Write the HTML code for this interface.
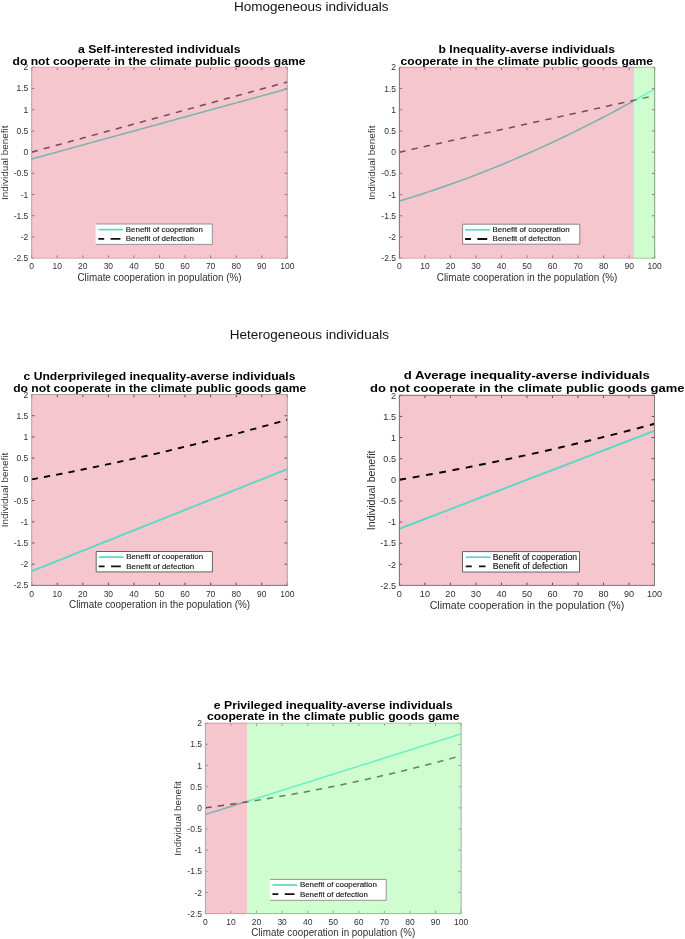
<!DOCTYPE html><html><head><meta charset="utf-8"><style>html,body{margin:0;padding:0;background:#fff;overflow:hidden}svg{display:block;will-change:transform}text{font-family:"Liberation Sans",sans-serif}</style></head><body>
<svg width="685" height="939" viewBox="0 0 685 939">
<rect width="685" height="939" fill="#fff"/>
<text x="234.00" y="10.90" font-size="13.5" font-weight="400" text-anchor="start" fill="#111" textLength="154.60" lengthAdjust="spacingAndGlyphs" >Homogeneous individuals</text>
<text x="229.80" y="338.60" font-size="13.5" font-weight="400" text-anchor="start" fill="#111" textLength="159.10" lengthAdjust="spacingAndGlyphs" >Heterogeneous individuals</text>
<rect x="31.7" y="67.2" width="255.60" height="191.00" fill="#F5C6CE"/>
<path d="M31.70,258.20v-2.8M31.70,67.20v2.8M57.26,258.20v-2.8M57.26,67.20v2.8M82.82,258.20v-2.8M82.82,67.20v2.8M108.38,258.20v-2.8M108.38,67.20v2.8M133.94,258.20v-2.8M133.94,67.20v2.8M159.50,258.20v-2.8M159.50,67.20v2.8M185.06,258.20v-2.8M185.06,67.20v2.8M210.62,258.20v-2.8M210.62,67.20v2.8M236.18,258.20v-2.8M236.18,67.20v2.8M261.74,258.20v-2.8M261.74,67.20v2.8M287.30,258.20v-2.8M287.30,67.20v2.8M31.70,67.20h2.8M287.30,67.20h-2.8M31.70,88.42h2.8M287.30,88.42h-2.8M31.70,109.64h2.8M287.30,109.64h-2.8M31.70,130.87h2.8M287.30,130.87h-2.8M31.70,152.09h2.8M287.30,152.09h-2.8M31.70,173.31h2.8M287.30,173.31h-2.8M31.70,194.53h2.8M287.30,194.53h-2.8M31.70,215.76h2.8M287.30,215.76h-2.8M31.70,236.98h2.8M287.30,236.98h-2.8M31.70,258.20h2.8M287.30,258.20h-2.8" stroke="#985C69" stroke-width="0.85" fill="none"/>
<clipPath id="cpa"><rect x="28.7" y="64.2" width="258.60" height="197.00"/></clipPath>
<polyline points="31.70,159.01 35.96,157.84 40.22,156.67 44.48,155.50 48.74,154.33 53.00,153.16 57.26,151.99 61.52,150.82 65.78,149.65 70.04,148.48 74.30,147.31 78.56,146.14 82.82,144.98 87.08,143.81 91.34,142.64 95.60,141.47 99.86,140.30 104.12,139.13 108.38,137.96 112.64,136.79 116.90,135.62 121.16,134.45 125.42,133.28 129.68,132.11 133.94,130.94 138.20,129.77 142.46,128.60 146.72,127.44 150.98,126.27 155.24,125.10 159.50,123.93 163.76,122.76 168.02,121.59 172.28,120.42 176.54,119.25 180.80,118.08 185.06,116.91 189.32,115.74 193.58,114.57 197.84,113.40 202.10,112.23 206.36,111.06 210.62,109.89 214.88,108.73 219.14,107.56 223.40,106.39 227.66,105.22 231.92,104.05 236.18,102.88 240.44,101.71 244.70,100.54 248.96,99.37 253.22,98.20 257.48,97.03 261.74,95.86 266.00,94.69 270.26,93.52 274.52,92.35 278.78,91.19 283.04,90.02 287.30,88.85" fill="none" stroke="#76B4AE" stroke-width="1.5" stroke-linejoin="round" clip-path="url(#cpa)"/>
<polyline points="31.70,152.09 35.96,150.92 40.22,149.75 44.48,148.58 48.74,147.41 53.00,146.25 57.26,145.08 61.52,143.91 65.78,142.74 70.04,141.57 74.30,140.40 78.56,139.23 82.82,138.07 87.08,136.90 91.34,135.73 95.60,134.56 99.86,133.39 104.12,132.22 108.38,131.05 112.64,129.88 116.90,128.72 121.16,127.55 125.42,126.38 129.68,125.21 133.94,124.04 138.20,122.87 142.46,121.70 146.72,120.54 150.98,119.37 155.24,118.20 159.50,117.03 163.76,115.86 168.02,114.69 172.28,113.52 176.54,112.36 180.80,111.19 185.06,110.02 189.32,108.85 193.58,107.68 197.84,106.51 202.10,105.34 206.36,104.17 210.62,103.01 214.88,101.84 219.14,100.67 223.40,99.50 227.66,98.33 231.92,97.16 236.18,95.99 240.44,94.83 244.70,93.66 248.96,92.49 253.22,91.32 257.48,90.15 261.74,88.98 266.00,87.81 270.26,86.65 274.52,85.48 278.78,84.31 283.04,83.14 287.30,81.97" fill="none" stroke="#7E4656" stroke-width="1.5" stroke-dasharray="6.3 6.15" stroke-linejoin="round" clip-path="url(#cpa)"/>
<line x1="31.7" y1="67.2" x2="31.7" y2="258.2" stroke="#A6A6A6" stroke-width="1"/>
<line x1="31.7" y1="67.2" x2="287.3" y2="67.2" stroke="#D9A9B1" stroke-width="1"/>
<line x1="287.3" y1="67.2" x2="287.3" y2="258.2" stroke="#A6A6A6" stroke-width="1"/>
<line x1="31.7" y1="258.2" x2="287.3" y2="258.2" stroke="#D9A9B1" stroke-width="1"/>
<text x="28.30" y="70.26" font-size="8.5" font-weight="400" text-anchor="end" fill="#303030" >2</text>
<text x="28.30" y="91.48" font-size="8.5" font-weight="400" text-anchor="end" fill="#303030" >1.5</text>
<text x="28.30" y="112.70" font-size="8.5" font-weight="400" text-anchor="end" fill="#303030" >1</text>
<text x="28.30" y="133.93" font-size="8.5" font-weight="400" text-anchor="end" fill="#303030" >0.5</text>
<text x="28.30" y="155.15" font-size="8.5" font-weight="400" text-anchor="end" fill="#303030" >0</text>
<text x="28.30" y="176.37" font-size="8.5" font-weight="400" text-anchor="end" fill="#303030" >-0.5</text>
<text x="28.30" y="197.59" font-size="8.5" font-weight="400" text-anchor="end" fill="#303030" >-1</text>
<text x="28.30" y="218.82" font-size="8.5" font-weight="400" text-anchor="end" fill="#303030" >-1.5</text>
<text x="28.30" y="240.04" font-size="8.5" font-weight="400" text-anchor="end" fill="#303030" >-2</text>
<text x="28.30" y="261.26" font-size="8.5" font-weight="400" text-anchor="end" fill="#303030" >-2.5</text>
<text x="31.70" y="269.46" font-size="8.5" font-weight="400" text-anchor="middle" fill="#303030" >0</text>
<text x="57.26" y="269.46" font-size="8.5" font-weight="400" text-anchor="middle" fill="#303030" >10</text>
<text x="82.82" y="269.46" font-size="8.5" font-weight="400" text-anchor="middle" fill="#303030" >20</text>
<text x="108.38" y="269.46" font-size="8.5" font-weight="400" text-anchor="middle" fill="#303030" >30</text>
<text x="133.94" y="269.46" font-size="8.5" font-weight="400" text-anchor="middle" fill="#303030" >40</text>
<text x="159.50" y="269.46" font-size="8.5" font-weight="400" text-anchor="middle" fill="#303030" >50</text>
<text x="185.06" y="269.46" font-size="8.5" font-weight="400" text-anchor="middle" fill="#303030" >60</text>
<text x="210.62" y="269.46" font-size="8.5" font-weight="400" text-anchor="middle" fill="#303030" >70</text>
<text x="236.18" y="269.46" font-size="8.5" font-weight="400" text-anchor="middle" fill="#303030" >80</text>
<text x="261.74" y="269.46" font-size="8.5" font-weight="400" text-anchor="middle" fill="#303030" >90</text>
<text x="287.30" y="269.46" font-size="8.5" font-weight="400" text-anchor="middle" fill="#303030" >100</text>
<text x="159.50" y="280.90" font-size="10.3" font-weight="400" text-anchor="middle" fill="#303030" textLength="164.00" lengthAdjust="spacingAndGlyphs" >Climate cooperation in population (%)</text>
<text transform="translate(7.60,162.70) rotate(-90)" x="0" y="0" font-size="9.9" text-anchor="middle" fill="#303030" textLength="74.5" lengthAdjust="spacingAndGlyphs">Individual benefit</text>
<text x="78.00" y="52.60" font-size="10.5" font-weight="700" text-anchor="start" fill="#000" textLength="162.50" lengthAdjust="spacingAndGlyphs" >a Self-interested individuals</text>
<text x="12.50" y="64.80" font-size="10.5" font-weight="700" text-anchor="start" fill="#000" textLength="293.00" lengthAdjust="spacingAndGlyphs" >do not cooperate in the climate public goods game</text>
<rect x="95.8" y="224.0" width="116.5" height="20.4" fill="#fff"/>
<path d="M95.8,224.0H212.3V244.4H95.8" fill="none" stroke="#8a8a8a" stroke-width="0.9"/>
<path d="M95.8,224.0V244.4" fill="none" stroke="#e6e6e6" stroke-width="0.9"/>
<line x1="98.3" y1="229.6" x2="123.1" y2="229.6" stroke="#58D9C5" stroke-width="1.7"/>
<path d="M98.30,238.80H104.20M110.60,238.80H120.40" stroke="#111" stroke-width="1.8"/>
<text x="125.80" y="231.90" font-size="7.6" font-weight="400" text-anchor="start" fill="#111" textLength="77.00" lengthAdjust="spacingAndGlyphs" stroke="#111" stroke-width="0.12">Benefit of cooperation</text>
<text x="125.80" y="241.10" font-size="7.6" font-weight="400" text-anchor="start" fill="#111" textLength="68.00" lengthAdjust="spacingAndGlyphs" stroke="#111" stroke-width="0.12">Benefit of defection</text>
<rect x="399.4" y="67.3" width="234.62" height="190.90" fill="#F5C6CE"/>
<rect x="634.02" y="67.3" width="20.68" height="190.90" fill="#D0FDD0"/>
<path d="M399.40,258.20v-2.8M399.40,67.30v2.8M424.93,258.20v-2.8M424.93,67.30v2.8M450.46,258.20v-2.8M450.46,67.30v2.8M475.99,258.20v-2.8M475.99,67.30v2.8M501.52,258.20v-2.8M501.52,67.30v2.8M527.05,258.20v-2.8M527.05,67.30v2.8M552.58,258.20v-2.8M552.58,67.30v2.8M578.11,258.20v-2.8M578.11,67.30v2.8M603.64,258.20v-2.8M603.64,67.30v2.8M629.17,258.20v-2.8M629.17,67.30v2.8M654.70,258.20v-2.8M654.70,67.30v2.8M399.40,67.30h2.8M654.70,67.30h-2.8M399.40,88.51h2.8M654.70,88.51h-2.8M399.40,109.72h2.8M654.70,109.72h-2.8M399.40,130.93h2.8M654.70,130.93h-2.8M399.40,152.14h2.8M654.70,152.14h-2.8M399.40,173.36h2.8M654.70,173.36h-2.8M399.40,194.57h2.8M654.70,194.57h-2.8M399.40,215.78h2.8M654.70,215.78h-2.8M399.40,236.99h2.8M654.70,236.99h-2.8M399.40,258.20h2.8M654.70,258.20h-2.8" stroke="#985C69" stroke-width="0.85" fill="none"/>
<clipPath id="cpb"><rect x="396.4" y="64.3" width="237.62" height="196.90"/></clipPath>
<polyline points="399.40,201.06 403.65,199.77 407.91,198.46 412.16,197.13 416.42,195.78 420.67,194.42 424.93,193.03 429.19,191.62 433.44,190.20 437.69,188.75 441.95,187.28 446.20,185.80 450.46,184.29 454.71,182.77 458.97,181.22 463.23,179.66 467.48,178.08 471.74,176.47 475.99,174.85 480.25,173.21 484.50,171.55 488.75,169.86 493.01,168.16 497.26,166.44 501.52,164.70 505.77,162.94 510.03,161.16 514.28,159.36 518.54,157.54 522.80,155.70 527.05,153.84 531.31,151.96 535.56,150.06 539.82,148.15 544.07,146.21 548.33,144.25 552.58,142.28 556.84,140.28 561.09,138.26 565.35,136.23 569.60,134.17 573.86,132.10 578.11,130.00 582.37,127.89 586.62,125.75 590.88,123.60 595.13,121.43 599.38,119.23 603.64,117.02 607.89,114.79 612.15,112.54 616.40,110.26 620.66,107.97 624.91,105.66 629.17,103.33 633.43,100.98 637.68,98.61 641.94,96.22 646.19,93.81 650.45,91.38 654.70,88.94" fill="none" stroke="#76B4AE" stroke-width="1.5" stroke-linejoin="round" clip-path="url(#cpb)"/>
<polyline points="399.40,152.14 403.65,151.20 407.91,150.26 412.16,149.32 416.42,148.38 420.67,147.44 424.93,146.50 429.19,145.56 433.44,144.62 437.69,143.67 441.95,142.73 446.20,141.79 450.46,140.85 454.71,139.91 458.97,138.97 463.23,138.03 467.48,137.09 471.74,136.15 475.99,135.21 480.25,134.26 484.50,133.32 488.75,132.38 493.01,131.44 497.26,130.50 501.52,129.56 505.77,128.62 510.03,127.68 514.28,126.74 518.54,125.79 522.80,124.85 527.05,123.91 531.31,122.97 535.56,122.03 539.82,121.09 544.07,120.15 548.33,119.21 552.58,118.27 556.84,117.32 561.09,116.38 565.35,115.44 569.60,114.50 573.86,113.56 578.11,112.62 582.37,111.68 586.62,110.74 590.88,109.80 595.13,108.86 599.38,107.91 603.64,106.97 607.89,106.03 612.15,105.09 616.40,104.15 620.66,103.21 624.91,102.27 629.17,101.33 633.43,100.39 637.68,99.44 641.94,98.50 646.19,97.56 650.45,96.62 654.70,95.68" fill="none" stroke="#7E4656" stroke-width="1.5" stroke-dasharray="6.3 6.15" stroke-linejoin="round" clip-path="url(#cpb)"/>
<clipPath id="cgb"><rect x="634.02" y="64.3" width="23.68" height="196.90"/></clipPath>
<polyline points="399.40,201.06 403.65,199.77 407.91,198.46 412.16,197.13 416.42,195.78 420.67,194.42 424.93,193.03 429.19,191.62 433.44,190.20 437.69,188.75 441.95,187.28 446.20,185.80 450.46,184.29 454.71,182.77 458.97,181.22 463.23,179.66 467.48,178.08 471.74,176.47 475.99,174.85 480.25,173.21 484.50,171.55 488.75,169.86 493.01,168.16 497.26,166.44 501.52,164.70 505.77,162.94 510.03,161.16 514.28,159.36 518.54,157.54 522.80,155.70 527.05,153.84 531.31,151.96 535.56,150.06 539.82,148.15 544.07,146.21 548.33,144.25 552.58,142.28 556.84,140.28 561.09,138.26 565.35,136.23 569.60,134.17 573.86,132.10 578.11,130.00 582.37,127.89 586.62,125.75 590.88,123.60 595.13,121.43 599.38,119.23 603.64,117.02 607.89,114.79 612.15,112.54 616.40,110.26 620.66,107.97 624.91,105.66 629.17,103.33 633.43,100.98 637.68,98.61 641.94,96.22 646.19,93.81 650.45,91.38 654.70,88.94" fill="none" stroke="#68F1C2" stroke-width="1.5" stroke-linejoin="round" clip-path="url(#cgb)"/>
<polyline points="399.40,152.14 403.65,151.20 407.91,150.26 412.16,149.32 416.42,148.38 420.67,147.44 424.93,146.50 429.19,145.56 433.44,144.62 437.69,143.67 441.95,142.73 446.20,141.79 450.46,140.85 454.71,139.91 458.97,138.97 463.23,138.03 467.48,137.09 471.74,136.15 475.99,135.21 480.25,134.26 484.50,133.32 488.75,132.38 493.01,131.44 497.26,130.50 501.52,129.56 505.77,128.62 510.03,127.68 514.28,126.74 518.54,125.79 522.80,124.85 527.05,123.91 531.31,122.97 535.56,122.03 539.82,121.09 544.07,120.15 548.33,119.21 552.58,118.27 556.84,117.32 561.09,116.38 565.35,115.44 569.60,114.50 573.86,113.56 578.11,112.62 582.37,111.68 586.62,110.74 590.88,109.80 595.13,108.86 599.38,107.91 603.64,106.97 607.89,106.03 612.15,105.09 616.40,104.15 620.66,103.21 624.91,102.27 629.17,101.33 633.43,100.39 637.68,99.44 641.94,98.50 646.19,97.56 650.45,96.62 654.70,95.68" fill="none" stroke="#528B58" stroke-width="1.5" stroke-dasharray="6.3 6.15" stroke-linejoin="round" clip-path="url(#cgb)"/>
<line x1="399.4" y1="67.3" x2="399.4" y2="258.2" stroke="#8A6C72" stroke-width="1"/>
<line x1="399.4" y1="67.3" x2="634.02" y2="67.3" stroke="#C99AA2" stroke-width="1"/>
<line x1="634.02" y1="67.3" x2="654.7" y2="67.3" stroke="#9CCB9C" stroke-width="1"/>
<line x1="654.7" y1="67.3" x2="654.7" y2="258.2" stroke="#7E9A7E" stroke-width="1"/>
<line x1="399.4" y1="258.2" x2="634.02" y2="258.2" stroke="#D9A9B1" stroke-width="1"/>
<line x1="634.02" y1="258.2" x2="654.7" y2="258.2" stroke="#9CCB9C" stroke-width="1"/>
<text x="396.00" y="70.36" font-size="8.5" font-weight="400" text-anchor="end" fill="#303030" >2</text>
<text x="396.00" y="91.57" font-size="8.5" font-weight="400" text-anchor="end" fill="#303030" >1.5</text>
<text x="396.00" y="112.78" font-size="8.5" font-weight="400" text-anchor="end" fill="#303030" >1</text>
<text x="396.00" y="133.99" font-size="8.5" font-weight="400" text-anchor="end" fill="#303030" >0.5</text>
<text x="396.00" y="155.20" font-size="8.5" font-weight="400" text-anchor="end" fill="#303030" >0</text>
<text x="396.00" y="176.42" font-size="8.5" font-weight="400" text-anchor="end" fill="#303030" >-0.5</text>
<text x="396.00" y="197.63" font-size="8.5" font-weight="400" text-anchor="end" fill="#303030" >-1</text>
<text x="396.00" y="218.84" font-size="8.5" font-weight="400" text-anchor="end" fill="#303030" >-1.5</text>
<text x="396.00" y="240.05" font-size="8.5" font-weight="400" text-anchor="end" fill="#303030" >-2</text>
<text x="396.00" y="261.26" font-size="8.5" font-weight="400" text-anchor="end" fill="#303030" >-2.5</text>
<text x="399.40" y="269.46" font-size="8.5" font-weight="400" text-anchor="middle" fill="#303030" >0</text>
<text x="424.93" y="269.46" font-size="8.5" font-weight="400" text-anchor="middle" fill="#303030" >10</text>
<text x="450.46" y="269.46" font-size="8.5" font-weight="400" text-anchor="middle" fill="#303030" >20</text>
<text x="475.99" y="269.46" font-size="8.5" font-weight="400" text-anchor="middle" fill="#303030" >30</text>
<text x="501.52" y="269.46" font-size="8.5" font-weight="400" text-anchor="middle" fill="#303030" >40</text>
<text x="527.05" y="269.46" font-size="8.5" font-weight="400" text-anchor="middle" fill="#303030" >50</text>
<text x="552.58" y="269.46" font-size="8.5" font-weight="400" text-anchor="middle" fill="#303030" >60</text>
<text x="578.11" y="269.46" font-size="8.5" font-weight="400" text-anchor="middle" fill="#303030" >70</text>
<text x="603.64" y="269.46" font-size="8.5" font-weight="400" text-anchor="middle" fill="#303030" >80</text>
<text x="629.17" y="269.46" font-size="8.5" font-weight="400" text-anchor="middle" fill="#303030" >90</text>
<text x="654.70" y="269.46" font-size="8.5" font-weight="400" text-anchor="middle" fill="#303030" >100</text>
<text x="527.05" y="280.90" font-size="10.3" font-weight="400" text-anchor="middle" fill="#303030" textLength="180.50" lengthAdjust="spacingAndGlyphs" >Climate cooperation in the population (%)</text>
<text transform="translate(375.00,162.75) rotate(-90)" x="0" y="0" font-size="9.9" text-anchor="middle" fill="#303030" textLength="74.5" lengthAdjust="spacingAndGlyphs">Individual benefit</text>
<text x="438.60" y="52.60" font-size="10.5" font-weight="700" text-anchor="start" fill="#000" textLength="176.30" lengthAdjust="spacingAndGlyphs" >b Inequality-averse individuals</text>
<text x="400.60" y="64.80" font-size="10.5" font-weight="700" text-anchor="start" fill="#000" textLength="252.50" lengthAdjust="spacingAndGlyphs" >cooperate in the climate public goods game</text>
<rect x="462.6" y="224.2" width="117.2" height="20.0" fill="#fff"/>
<path d="M462.6,224.2H579.8000000000001V244.2H462.6" fill="none" stroke="#7a7a7a" stroke-width="0.9"/>
<path d="M462.6,224.2V244.2" fill="none" stroke="#7a7a7a" stroke-width="0.9"/>
<line x1="465.1" y1="229.79999999999998" x2="489.90000000000003" y2="229.79999999999998" stroke="#58D9C5" stroke-width="1.7"/>
<path d="M465.10,239.00H471.00M477.40,239.00H487.20" stroke="#111" stroke-width="1.8"/>
<text x="492.60" y="232.10" font-size="7.6" font-weight="400" text-anchor="start" fill="#111" textLength="77.00" lengthAdjust="spacingAndGlyphs" stroke="#111" stroke-width="0.12">Benefit of cooperation</text>
<text x="492.60" y="241.30" font-size="7.6" font-weight="400" text-anchor="start" fill="#111" textLength="68.00" lengthAdjust="spacingAndGlyphs" stroke="#111" stroke-width="0.12">Benefit of defection</text>
<rect x="31.7" y="394.5" width="255.60" height="190.90" fill="#F5C6CE"/>
<path d="M31.70,585.40v-2.8M31.70,394.50v2.8M57.26,585.40v-2.8M57.26,394.50v2.8M82.82,585.40v-2.8M82.82,394.50v2.8M108.38,585.40v-2.8M108.38,394.50v2.8M133.94,585.40v-2.8M133.94,394.50v2.8M159.50,585.40v-2.8M159.50,394.50v2.8M185.06,585.40v-2.8M185.06,394.50v2.8M210.62,585.40v-2.8M210.62,394.50v2.8M236.18,585.40v-2.8M236.18,394.50v2.8M261.74,585.40v-2.8M261.74,394.50v2.8M287.30,585.40v-2.8M287.30,394.50v2.8M31.70,394.50h2.8M287.30,394.50h-2.8M31.70,415.71h2.8M287.30,415.71h-2.8M31.70,436.92h2.8M287.30,436.92h-2.8M31.70,458.13h2.8M287.30,458.13h-2.8M31.70,479.34h2.8M287.30,479.34h-2.8M31.70,500.56h2.8M287.30,500.56h-2.8M31.70,521.77h2.8M287.30,521.77h-2.8M31.70,542.98h2.8M287.30,542.98h-2.8M31.70,564.19h2.8M287.30,564.19h-2.8M31.70,585.40h2.8M287.30,585.40h-2.8" stroke="#3d3d3d" stroke-width="0.85" fill="none"/>
<polyline points="31.70,571.15 35.96,569.45 40.22,567.74 44.48,566.04 48.74,564.34 53.00,562.64 57.26,560.94 61.52,559.24 65.78,557.54 70.04,555.84 74.30,554.13 78.56,552.43 82.82,550.73 87.08,549.03 91.34,547.33 95.60,545.63 99.86,543.93 104.12,542.23 108.38,540.53 112.64,538.82 116.90,537.12 121.16,535.42 125.42,533.72 129.68,532.02 133.94,530.32 138.20,528.62 142.46,526.92 146.72,525.22 150.98,523.51 155.24,521.81 159.50,520.11 163.76,518.41 168.02,516.71 172.28,515.01 176.54,513.31 180.80,511.61 185.06,509.91 189.32,508.20 193.58,506.50 197.84,504.80 202.10,503.10 206.36,501.40 210.62,499.70 214.88,498.00 219.14,496.30 223.40,494.60 227.66,492.89 231.92,491.19 236.18,489.49 240.44,487.79 244.70,486.09 248.96,484.39 253.22,482.69 257.48,480.99 261.74,479.29 266.00,477.58 270.26,475.88 274.52,474.18 278.78,472.48 283.04,470.78 287.30,469.08" fill="none" stroke="#58D9C5" stroke-width="1.85" stroke-linejoin="round"/>
<polyline points="31.70,479.34 35.96,478.56 40.22,477.78 44.48,476.98 48.74,476.18 53.00,475.37 57.26,474.56 61.52,473.73 65.78,472.90 70.04,472.06 74.30,471.22 78.56,470.37 82.82,469.51 87.08,468.64 91.34,467.76 95.60,466.88 99.86,465.99 104.12,465.10 108.38,464.19 112.64,463.28 116.90,462.37 121.16,461.44 125.42,460.51 129.68,459.57 133.94,458.62 138.20,457.67 142.46,456.71 146.72,455.74 150.98,454.76 155.24,453.78 159.50,452.79 163.76,451.79 168.02,450.79 172.28,449.77 176.54,448.75 180.80,447.73 185.06,446.69 189.32,445.65 193.58,444.60 197.84,443.55 202.10,442.48 206.36,441.41 210.62,440.34 214.88,439.25 219.14,438.16 223.40,437.06 227.66,435.95 231.92,434.84 236.18,433.72 240.44,432.59 244.70,431.45 248.96,430.31 253.22,429.16 257.48,428.00 261.74,426.84 266.00,425.67 270.26,424.49 274.52,423.30 278.78,422.11 283.04,420.91 287.30,419.70" fill="none" stroke="#000" stroke-width="1.85" stroke-dasharray="6.3 6.15" stroke-linejoin="round"/>
<line x1="31.7" y1="394.5" x2="31.7" y2="585.4" stroke="#A6A6A6" stroke-width="1"/>
<line x1="31.7" y1="394.5" x2="287.3" y2="394.5" stroke="#A6A6A6" stroke-width="1"/>
<line x1="287.3" y1="394.5" x2="287.3" y2="585.4" stroke="#A6A6A6" stroke-width="1"/>
<line x1="31.7" y1="585.4" x2="287.3" y2="585.4" stroke="#8E6E74" stroke-width="1"/>
<text x="28.30" y="397.56" font-size="8.5" font-weight="400" text-anchor="end" fill="#303030" >2</text>
<text x="28.30" y="418.77" font-size="8.5" font-weight="400" text-anchor="end" fill="#303030" >1.5</text>
<text x="28.30" y="439.98" font-size="8.5" font-weight="400" text-anchor="end" fill="#303030" >1</text>
<text x="28.30" y="461.19" font-size="8.5" font-weight="400" text-anchor="end" fill="#303030" >0.5</text>
<text x="28.30" y="482.40" font-size="8.5" font-weight="400" text-anchor="end" fill="#303030" >0</text>
<text x="28.30" y="503.62" font-size="8.5" font-weight="400" text-anchor="end" fill="#303030" >-0.5</text>
<text x="28.30" y="524.83" font-size="8.5" font-weight="400" text-anchor="end" fill="#303030" >-1</text>
<text x="28.30" y="546.04" font-size="8.5" font-weight="400" text-anchor="end" fill="#303030" >-1.5</text>
<text x="28.30" y="567.25" font-size="8.5" font-weight="400" text-anchor="end" fill="#303030" >-2</text>
<text x="28.30" y="588.46" font-size="8.5" font-weight="400" text-anchor="end" fill="#303030" >-2.5</text>
<text x="31.70" y="596.66" font-size="8.5" font-weight="400" text-anchor="middle" fill="#303030" >0</text>
<text x="57.26" y="596.66" font-size="8.5" font-weight="400" text-anchor="middle" fill="#303030" >10</text>
<text x="82.82" y="596.66" font-size="8.5" font-weight="400" text-anchor="middle" fill="#303030" >20</text>
<text x="108.38" y="596.66" font-size="8.5" font-weight="400" text-anchor="middle" fill="#303030" >30</text>
<text x="133.94" y="596.66" font-size="8.5" font-weight="400" text-anchor="middle" fill="#303030" >40</text>
<text x="159.50" y="596.66" font-size="8.5" font-weight="400" text-anchor="middle" fill="#303030" >50</text>
<text x="185.06" y="596.66" font-size="8.5" font-weight="400" text-anchor="middle" fill="#303030" >60</text>
<text x="210.62" y="596.66" font-size="8.5" font-weight="400" text-anchor="middle" fill="#303030" >70</text>
<text x="236.18" y="596.66" font-size="8.5" font-weight="400" text-anchor="middle" fill="#303030" >80</text>
<text x="261.74" y="596.66" font-size="8.5" font-weight="400" text-anchor="middle" fill="#303030" >90</text>
<text x="287.30" y="596.66" font-size="8.5" font-weight="400" text-anchor="middle" fill="#303030" >100</text>
<text x="159.50" y="608.10" font-size="10.3" font-weight="400" text-anchor="middle" fill="#303030" textLength="181.00" lengthAdjust="spacingAndGlyphs" >Climate cooperation in the population (%)</text>
<text transform="translate(7.60,489.95) rotate(-90)" x="0" y="0" font-size="9.9" text-anchor="middle" fill="#303030" textLength="74.5" lengthAdjust="spacingAndGlyphs">Individual benefit</text>
<text x="23.50" y="380.40" font-size="10.5" font-weight="700" text-anchor="start" fill="#000" textLength="272.00" lengthAdjust="spacingAndGlyphs" >c Underprivileged inequality-averse individuals</text>
<text x="13.20" y="392.00" font-size="10.5" font-weight="700" text-anchor="start" fill="#000" textLength="293.00" lengthAdjust="spacingAndGlyphs" >do not cooperate in the climate public goods game</text>
<rect x="96.2" y="551.5" width="116.2" height="20.4" fill="#fff"/>
<path d="M96.2,551.5H212.4V571.9H96.2" fill="none" stroke="#555" stroke-width="0.9"/>
<path d="M96.2,551.5V571.9" fill="none" stroke="#555" stroke-width="0.9"/>
<line x1="98.7" y1="557.1" x2="123.5" y2="557.1" stroke="#58D9C5" stroke-width="1.7"/>
<path d="M98.70,566.30H104.60M111.00,566.30H120.80" stroke="#111" stroke-width="1.8"/>
<text x="126.20" y="559.40" font-size="7.6" font-weight="400" text-anchor="start" fill="#111" textLength="77.00" lengthAdjust="spacingAndGlyphs" stroke="#111" stroke-width="0.12">Benefit of cooperation</text>
<text x="126.20" y="568.60" font-size="7.6" font-weight="400" text-anchor="start" fill="#111" textLength="68.00" lengthAdjust="spacingAndGlyphs" stroke="#111" stroke-width="0.12">Benefit of defection</text>
<rect x="399.4" y="395.3" width="255.10" height="190.10" fill="#F5C6CE"/>
<path d="M399.40,585.40v-2.8M399.40,395.30v2.8M424.91,585.40v-2.8M424.91,395.30v2.8M450.42,585.40v-2.8M450.42,395.30v2.8M475.93,585.40v-2.8M475.93,395.30v2.8M501.44,585.40v-2.8M501.44,395.30v2.8M526.95,585.40v-2.8M526.95,395.30v2.8M552.46,585.40v-2.8M552.46,395.30v2.8M577.97,585.40v-2.8M577.97,395.30v2.8M603.48,585.40v-2.8M603.48,395.30v2.8M628.99,585.40v-2.8M628.99,395.30v2.8M654.50,585.40v-2.8M654.50,395.30v2.8M399.40,395.30h2.8M654.50,395.30h-2.8M399.40,416.42h2.8M654.50,416.42h-2.8M399.40,437.54h2.8M654.50,437.54h-2.8M399.40,458.67h2.8M654.50,458.67h-2.8M399.40,479.79h2.8M654.50,479.79h-2.8M399.40,500.91h2.8M654.50,500.91h-2.8M399.40,522.03h2.8M654.50,522.03h-2.8M399.40,543.16h2.8M654.50,543.16h-2.8M399.40,564.28h2.8M654.50,564.28h-2.8M399.40,585.40h2.8M654.50,585.40h-2.8" stroke="#3d3d3d" stroke-width="0.85" fill="none"/>
<polyline points="399.40,528.79 403.65,527.16 407.90,525.53 412.15,523.89 416.41,522.26 420.66,520.63 424.91,518.99 429.16,517.36 433.41,515.72 437.66,514.09 441.92,512.46 446.17,510.82 450.42,509.19 454.67,507.56 458.92,505.92 463.17,504.29 467.43,502.66 471.68,501.02 475.93,499.39 480.18,497.76 484.43,496.12 488.68,494.49 492.94,492.86 497.19,491.22 501.44,489.59 505.69,487.96 509.94,486.32 514.19,484.69 518.45,483.06 522.70,481.42 526.95,479.79 531.20,478.16 535.45,476.52 539.71,474.89 543.96,473.26 548.21,471.62 552.46,469.99 556.71,468.35 560.96,466.72 565.22,465.09 569.47,463.45 573.72,461.82 577.97,460.19 582.22,458.55 586.47,456.92 590.73,455.29 594.98,453.65 599.23,452.02 603.48,450.39 607.73,448.75 611.98,447.12 616.24,445.49 620.49,443.85 624.74,442.22 628.99,440.59 633.24,438.95 637.49,437.32 641.75,435.69 646.00,434.05 650.25,432.42 654.50,430.79" fill="none" stroke="#58D9C5" stroke-width="1.95" stroke-linejoin="round"/>
<polyline points="399.40,479.79 403.65,479.07 407.90,478.33 412.15,477.60 416.41,476.85 420.66,476.10 424.91,475.34 429.16,474.57 433.41,473.80 437.66,473.02 441.92,472.23 446.17,471.44 450.42,470.64 454.67,469.83 458.92,469.01 463.17,468.19 467.43,467.36 471.68,466.52 475.93,465.68 480.18,464.82 484.43,463.97 488.68,463.10 492.94,462.23 497.19,461.35 501.44,460.46 505.69,459.57 509.94,458.67 514.19,457.76 518.45,456.84 522.70,455.92 526.95,454.99 531.20,454.05 535.45,453.11 539.71,452.16 543.96,451.20 548.21,450.24 552.46,449.27 556.71,448.29 560.96,447.30 565.22,446.31 569.47,445.31 573.72,444.30 577.97,443.29 582.22,442.26 586.47,441.24 590.73,440.20 594.98,439.16 599.23,438.11 603.48,437.05 607.73,435.99 611.98,434.92 616.24,433.84 620.49,432.75 624.74,431.66 628.99,430.56 633.24,429.45 637.49,428.34 641.75,427.22 646.00,426.09 650.25,424.96 654.50,423.81" fill="none" stroke="#000" stroke-width="1.95" stroke-dasharray="6.8 6.7" stroke-linejoin="round"/>
<line x1="399.4" y1="395.3" x2="399.4" y2="585.4" stroke="#7E6A6E" stroke-width="1"/>
<line x1="399.4" y1="395.3" x2="654.5" y2="395.3" stroke="#7E6A6E" stroke-width="1"/>
<line x1="654.5" y1="395.3" x2="654.5" y2="585.4" stroke="#7E7E7E" stroke-width="1"/>
<line x1="399.4" y1="585.4" x2="654.5" y2="585.4" stroke="#8E6E74" stroke-width="1"/>
<text x="396.00" y="398.58" font-size="9.1" font-weight="400" text-anchor="end" fill="#303030" >2</text>
<text x="396.00" y="419.70" font-size="9.1" font-weight="400" text-anchor="end" fill="#303030" >1.5</text>
<text x="396.00" y="440.82" font-size="9.1" font-weight="400" text-anchor="end" fill="#303030" >1</text>
<text x="396.00" y="461.94" font-size="9.1" font-weight="400" text-anchor="end" fill="#303030" >0.5</text>
<text x="396.00" y="483.06" font-size="9.1" font-weight="400" text-anchor="end" fill="#303030" >0</text>
<text x="396.00" y="504.19" font-size="9.1" font-weight="400" text-anchor="end" fill="#303030" >-0.5</text>
<text x="396.00" y="525.31" font-size="9.1" font-weight="400" text-anchor="end" fill="#303030" >-1</text>
<text x="396.00" y="546.43" font-size="9.1" font-weight="400" text-anchor="end" fill="#303030" >-1.5</text>
<text x="396.00" y="567.55" font-size="9.1" font-weight="400" text-anchor="end" fill="#303030" >-2</text>
<text x="396.00" y="588.68" font-size="9.1" font-weight="400" text-anchor="end" fill="#303030" >-2.5</text>
<text x="399.40" y="597.08" font-size="9.1" font-weight="400" text-anchor="middle" fill="#303030" >0</text>
<text x="424.91" y="597.08" font-size="9.1" font-weight="400" text-anchor="middle" fill="#303030" >10</text>
<text x="450.42" y="597.08" font-size="9.1" font-weight="400" text-anchor="middle" fill="#303030" >20</text>
<text x="475.93" y="597.08" font-size="9.1" font-weight="400" text-anchor="middle" fill="#303030" >30</text>
<text x="501.44" y="597.08" font-size="9.1" font-weight="400" text-anchor="middle" fill="#303030" >40</text>
<text x="526.95" y="597.08" font-size="9.1" font-weight="400" text-anchor="middle" fill="#303030" >50</text>
<text x="552.46" y="597.08" font-size="9.1" font-weight="400" text-anchor="middle" fill="#303030" >60</text>
<text x="577.97" y="597.08" font-size="9.1" font-weight="400" text-anchor="middle" fill="#303030" >70</text>
<text x="603.48" y="597.08" font-size="9.1" font-weight="400" text-anchor="middle" fill="#303030" >80</text>
<text x="628.99" y="597.08" font-size="9.1" font-weight="400" text-anchor="middle" fill="#303030" >90</text>
<text x="654.50" y="597.08" font-size="9.1" font-weight="400" text-anchor="middle" fill="#303030" >100</text>
<text x="526.95" y="608.60" font-size="11.0" font-weight="400" text-anchor="middle" fill="#303030" textLength="194.60" lengthAdjust="spacingAndGlyphs" >Climate cooperation in the population (%)</text>
<text transform="translate(374.90,490.35) rotate(-90)" x="0" y="0" font-size="10.6" text-anchor="middle" fill="#303030" textLength="79.8" lengthAdjust="spacingAndGlyphs">Individual benefit</text>
<text x="403.80" y="379.40" font-size="11.3" font-weight="700" text-anchor="start" fill="#000" textLength="246.00" lengthAdjust="spacingAndGlyphs" >d Average inequality-averse individuals</text>
<text x="370.00" y="391.90" font-size="11.3" font-weight="700" text-anchor="start" fill="#000" textLength="314.50" lengthAdjust="spacingAndGlyphs" >do not cooperate in the climate public goods game</text>
<rect x="462.5" y="551.6" width="117.0" height="20.4" fill="#fff"/>
<path d="M462.5,551.6H579.5V572.0H462.5" fill="none" stroke="#555" stroke-width="0.9"/>
<path d="M462.5,551.6V572.0" fill="none" stroke="#555" stroke-width="0.9"/>
<line x1="465.8" y1="557.2" x2="490.5" y2="557.2" stroke="#58D9C5" stroke-width="1.7"/>
<path d="M465.80,566.40H471.80M479.00,566.40H485.50" stroke="#111" stroke-width="1.8"/>
<text x="492.80" y="560.10" font-size="8.2" font-weight="400" text-anchor="start" fill="#111" textLength="84.40" lengthAdjust="spacingAndGlyphs" stroke="#111" stroke-width="0.12">Benefit of cooperation</text>
<text x="492.80" y="568.80" font-size="8.2" font-weight="400" text-anchor="start" fill="#111" textLength="74.90" lengthAdjust="spacingAndGlyphs" stroke="#111" stroke-width="0.12">Benefit of defection</text>
<rect x="205.4" y="723.2" width="42.19" height="190.40" fill="#F5C6CE"/>
<rect x="247.59" y="723.2" width="213.51" height="190.40" fill="#D0FDD0"/>
<path d="M205.40,913.60v-2.8M205.40,723.20v2.8M230.97,913.60v-2.8M230.97,723.20v2.8M256.54,913.60v-2.8M256.54,723.20v2.8M282.11,913.60v-2.8M282.11,723.20v2.8M307.68,913.60v-2.8M307.68,723.20v2.8M333.25,913.60v-2.8M333.25,723.20v2.8M358.82,913.60v-2.8M358.82,723.20v2.8M384.39,913.60v-2.8M384.39,723.20v2.8M409.96,913.60v-2.8M409.96,723.20v2.8M435.53,913.60v-2.8M435.53,723.20v2.8M461.10,913.60v-2.8M461.10,723.20v2.8M205.40,723.20h2.8M461.10,723.20h-2.8M205.40,744.36h2.8M461.10,744.36h-2.8M205.40,765.51h2.8M461.10,765.51h-2.8M205.40,786.67h2.8M461.10,786.67h-2.8M205.40,807.82h2.8M461.10,807.82h-2.8M205.40,828.98h2.8M461.10,828.98h-2.8M205.40,850.13h2.8M461.10,850.13h-2.8M205.40,871.29h2.8M461.10,871.29h-2.8M205.40,892.44h2.8M461.10,892.44h-2.8M205.40,913.60h2.8M461.10,913.60h-2.8" stroke="#8a9a8a" stroke-width="0.85" fill="none"/>
<clipPath id="cpe"><rect x="202.4" y="720.2" width="45.19" height="196.40"/></clipPath>
<polyline points="205.40,814.51 209.66,813.16 213.92,811.82 218.19,810.48 222.45,809.13 226.71,807.79 230.97,806.45 235.23,805.10 239.49,803.76 243.75,802.42 248.02,801.07 252.28,799.73 256.54,798.39 260.80,797.04 265.06,795.70 269.32,794.36 273.59,793.01 277.85,791.67 282.11,790.33 286.37,788.98 290.63,787.64 294.89,786.30 299.16,784.95 303.42,783.61 307.68,782.27 311.94,780.92 316.20,779.58 320.47,778.24 324.73,776.89 328.99,775.55 333.25,774.21 337.51,772.86 341.77,771.52 346.04,770.18 350.30,768.83 354.56,767.49 358.82,766.15 363.08,764.80 367.34,763.46 371.61,762.12 375.87,760.77 380.13,759.43 384.39,758.09 388.65,756.74 392.91,755.40 397.18,754.06 401.44,752.71 405.70,751.37 409.96,750.03 414.22,748.68 418.48,747.34 422.75,746.00 427.01,744.65 431.27,743.31 435.53,741.96 439.79,740.62 444.05,739.28 448.31,737.93 452.58,736.59 456.84,735.25 461.10,733.90" fill="none" stroke="#76B4AE" stroke-width="1.5" stroke-linejoin="round" clip-path="url(#cpe)"/>
<polyline points="205.40,807.82 209.66,807.26 213.92,806.68 218.19,806.10 222.45,805.50 226.71,804.89 230.97,804.28 235.23,803.65 239.49,803.01 243.75,802.37 248.02,801.71 252.28,801.04 256.54,800.37 260.80,799.68 265.06,798.98 269.32,798.27 273.59,797.55 277.85,796.82 282.11,796.08 286.37,795.33 290.63,794.57 294.89,793.80 299.16,793.02 303.42,792.23 307.68,791.43 311.94,790.62 316.20,789.80 320.47,788.97 324.73,788.13 328.99,787.28 333.25,786.41 337.51,785.54 341.77,784.66 346.04,783.76 350.30,782.86 354.56,781.95 358.82,781.02 363.08,780.09 367.34,779.15 371.61,778.19 375.87,777.23 380.13,776.25 384.39,775.27 388.65,774.27 392.91,773.27 397.18,772.25 401.44,771.22 405.70,770.19 409.96,769.14 414.22,768.08 418.48,767.02 422.75,765.94 427.01,764.85 431.27,763.75 435.53,762.64 439.79,761.53 444.05,760.40 448.31,759.26 452.58,758.11 456.84,756.95 461.10,755.78" fill="none" stroke="#7E4656" stroke-width="1.5" stroke-dasharray="6.3 6.15" stroke-linejoin="round" clip-path="url(#cpe)"/>
<clipPath id="cge"><rect x="247.59" y="720.2" width="216.51" height="196.40"/></clipPath>
<polyline points="205.40,814.51 209.66,813.16 213.92,811.82 218.19,810.48 222.45,809.13 226.71,807.79 230.97,806.45 235.23,805.10 239.49,803.76 243.75,802.42 248.02,801.07 252.28,799.73 256.54,798.39 260.80,797.04 265.06,795.70 269.32,794.36 273.59,793.01 277.85,791.67 282.11,790.33 286.37,788.98 290.63,787.64 294.89,786.30 299.16,784.95 303.42,783.61 307.68,782.27 311.94,780.92 316.20,779.58 320.47,778.24 324.73,776.89 328.99,775.55 333.25,774.21 337.51,772.86 341.77,771.52 346.04,770.18 350.30,768.83 354.56,767.49 358.82,766.15 363.08,764.80 367.34,763.46 371.61,762.12 375.87,760.77 380.13,759.43 384.39,758.09 388.65,756.74 392.91,755.40 397.18,754.06 401.44,752.71 405.70,751.37 409.96,750.03 414.22,748.68 418.48,747.34 422.75,746.00 427.01,744.65 431.27,743.31 435.53,741.96 439.79,740.62 444.05,739.28 448.31,737.93 452.58,736.59 456.84,735.25 461.10,733.90" fill="none" stroke="#68F1C2" stroke-width="1.5" stroke-linejoin="round" clip-path="url(#cge)"/>
<polyline points="205.40,807.82 209.66,807.26 213.92,806.68 218.19,806.10 222.45,805.50 226.71,804.89 230.97,804.28 235.23,803.65 239.49,803.01 243.75,802.37 248.02,801.71 252.28,801.04 256.54,800.37 260.80,799.68 265.06,798.98 269.32,798.27 273.59,797.55 277.85,796.82 282.11,796.08 286.37,795.33 290.63,794.57 294.89,793.80 299.16,793.02 303.42,792.23 307.68,791.43 311.94,790.62 316.20,789.80 320.47,788.97 324.73,788.13 328.99,787.28 333.25,786.41 337.51,785.54 341.77,784.66 346.04,783.76 350.30,782.86 354.56,781.95 358.82,781.02 363.08,780.09 367.34,779.15 371.61,778.19 375.87,777.23 380.13,776.25 384.39,775.27 388.65,774.27 392.91,773.27 397.18,772.25 401.44,771.22 405.70,770.19 409.96,769.14 414.22,768.08 418.48,767.02 422.75,765.94 427.01,764.85 431.27,763.75 435.53,762.64 439.79,761.53 444.05,760.40 448.31,759.26 452.58,758.11 456.84,756.95 461.10,755.78" fill="none" stroke="#528B58" stroke-width="1.5" stroke-dasharray="6.3 6.15" stroke-linejoin="round" clip-path="url(#cge)"/>
<line x1="205.4" y1="723.2" x2="205.4" y2="913.6" stroke="#A6A6A6" stroke-width="1"/>
<line x1="205.4" y1="723.2" x2="247.59" y2="723.2" stroke="#C99AA2" stroke-width="1"/>
<line x1="247.59" y1="723.2" x2="461.1" y2="723.2" stroke="#9CCB9C" stroke-width="1"/>
<line x1="461.1" y1="723.2" x2="461.1" y2="913.6" stroke="#A6A6A6" stroke-width="1"/>
<line x1="205.4" y1="913.6" x2="247.59" y2="913.6" stroke="#C99AA2" stroke-width="1"/>
<line x1="247.59" y1="913.6" x2="461.1" y2="913.6" stroke="#8FBF8F" stroke-width="1"/>
<text x="202.00" y="726.26" font-size="8.5" font-weight="400" text-anchor="end" fill="#303030" >2</text>
<text x="202.00" y="747.42" font-size="8.5" font-weight="400" text-anchor="end" fill="#303030" >1.5</text>
<text x="202.00" y="768.57" font-size="8.5" font-weight="400" text-anchor="end" fill="#303030" >1</text>
<text x="202.00" y="789.73" font-size="8.5" font-weight="400" text-anchor="end" fill="#303030" >0.5</text>
<text x="202.00" y="810.88" font-size="8.5" font-weight="400" text-anchor="end" fill="#303030" >0</text>
<text x="202.00" y="832.04" font-size="8.5" font-weight="400" text-anchor="end" fill="#303030" >-0.5</text>
<text x="202.00" y="853.19" font-size="8.5" font-weight="400" text-anchor="end" fill="#303030" >-1</text>
<text x="202.00" y="874.35" font-size="8.5" font-weight="400" text-anchor="end" fill="#303030" >-1.5</text>
<text x="202.00" y="895.50" font-size="8.5" font-weight="400" text-anchor="end" fill="#303030" >-2</text>
<text x="202.00" y="916.66" font-size="8.5" font-weight="400" text-anchor="end" fill="#303030" >-2.5</text>
<text x="205.40" y="924.87" font-size="8.5" font-weight="400" text-anchor="middle" fill="#303030" >0</text>
<text x="230.97" y="924.87" font-size="8.5" font-weight="400" text-anchor="middle" fill="#303030" >10</text>
<text x="256.54" y="924.87" font-size="8.5" font-weight="400" text-anchor="middle" fill="#303030" >20</text>
<text x="282.11" y="924.87" font-size="8.5" font-weight="400" text-anchor="middle" fill="#303030" >30</text>
<text x="307.68" y="924.87" font-size="8.5" font-weight="400" text-anchor="middle" fill="#303030" >40</text>
<text x="333.25" y="924.87" font-size="8.5" font-weight="400" text-anchor="middle" fill="#303030" >50</text>
<text x="358.82" y="924.87" font-size="8.5" font-weight="400" text-anchor="middle" fill="#303030" >60</text>
<text x="384.39" y="924.87" font-size="8.5" font-weight="400" text-anchor="middle" fill="#303030" >70</text>
<text x="409.96" y="924.87" font-size="8.5" font-weight="400" text-anchor="middle" fill="#303030" >80</text>
<text x="435.53" y="924.87" font-size="8.5" font-weight="400" text-anchor="middle" fill="#303030" >90</text>
<text x="461.10" y="924.87" font-size="8.5" font-weight="400" text-anchor="middle" fill="#303030" >100</text>
<text x="333.25" y="936.30" font-size="10.3" font-weight="400" text-anchor="middle" fill="#303030" textLength="164.00" lengthAdjust="spacingAndGlyphs" >Climate cooperation in population (%)</text>
<text transform="translate(181.40,818.40) rotate(-90)" x="0" y="0" font-size="9.9" text-anchor="middle" fill="#303030" textLength="74.5" lengthAdjust="spacingAndGlyphs">Individual benefit</text>
<text x="213.80" y="708.50" font-size="10.5" font-weight="700" text-anchor="start" fill="#000" textLength="239.00" lengthAdjust="spacingAndGlyphs" >e Privileged inequality-averse individuals</text>
<text x="206.90" y="720.40" font-size="10.5" font-weight="700" text-anchor="start" fill="#000" textLength="252.70" lengthAdjust="spacingAndGlyphs" >cooperate in the climate public goods game</text>
<rect x="269.9" y="879.4" width="116.3" height="20.9" fill="#fff"/>
<path d="M269.9,879.4H386.2V900.3H269.9" fill="none" stroke="#8a8a8a" stroke-width="0.9"/>
<path d="M269.9,879.4V900.3" fill="none" stroke="#f0f0f0" stroke-width="0.9"/>
<line x1="272.4" y1="885.0" x2="297.2" y2="885.0" stroke="#58D9C5" stroke-width="1.7"/>
<path d="M272.40,894.20H278.30M284.70,894.20H294.50" stroke="#111" stroke-width="1.8"/>
<text x="299.90" y="887.30" font-size="7.6" font-weight="400" text-anchor="start" fill="#111" textLength="77.00" lengthAdjust="spacingAndGlyphs" stroke="#111" stroke-width="0.12">Benefit of cooperation</text>
<text x="299.90" y="896.50" font-size="7.6" font-weight="400" text-anchor="start" fill="#111" textLength="68.00" lengthAdjust="spacingAndGlyphs" stroke="#111" stroke-width="0.12">Benefit of defection</text>
</svg></body></html>
